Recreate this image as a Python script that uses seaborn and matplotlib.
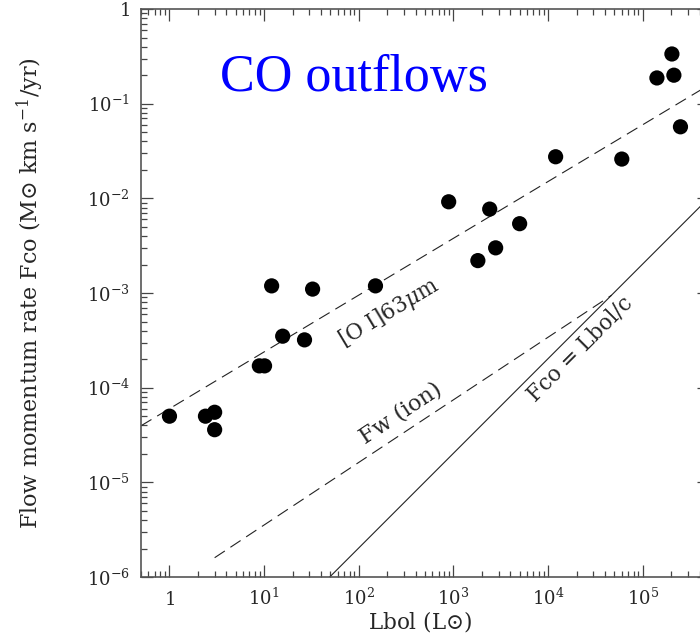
import numpy as np
import pandas as pd
import matplotlib
matplotlib.use("Agg")
import matplotlib.pyplot as plt
import seaborn as sns

# Outflow sources: bolometric luminosity (Lsun) and CO momentum rate (Msun km/s/yr)
lbol = [1, 2.4, 3.0, 3.0, 8.9, 10.1, 15.7, 26.7, 12, 32.5, 150, 890,
        2415, 1810, 2790, 5000, 12000, 60000, 1.41e5, 2.03e5, 2.13e5, 2.5e5]
fco = [5.0e-5, 5.0e-5, 5.5e-5, 3.6e-5, 1.7e-4, 1.7e-4, 3.5e-4, 3.2e-4,
       1.19e-3, 1.1e-3, 1.19e-3, 9.2e-3, 7.7e-3, 2.2e-3, 3.0e-3, 5.4e-3,
       2.75e-2, 2.6e-2, 0.187, 0.335, 0.20, 0.057]

# Reference relations
oi_norm, oi_slope = 6.0e-5, 0.6          # [O I] 63 um relation
oi_range = [0.5, 5e5]
fw_range = [3.0, 4.7e4]                  # ionised wind momentum rate
fw_flux = [1.6e-6, 9.5e-4]
lc_coef = 2.03e-8                        # Lsun / c in Msun km/s / yr
lc_range = [49.0, 5e5]

# Decade tick positions
x_decades = [1, 1e1, 1e2, 1e3, 1e4, 1e5]
y_decades = [1e-6, 1e-5, 1e-4, 1e-3, 1e-2, 1e-1, 1]

sns.set_style("ticks")
plt.rcParams["font.family"] = ["DejaVu Serif", "DejaVu Sans"]
plt.rcParams["mathtext.fontset"] = "dejavuserif"
plt.rcParams["axes.formatter.min_exponent"] = 1

fig = plt.figure(figsize=(7.0, 6.35), dpi=100)
ax = fig.add_axes([0.2014, 0.0913, 0.8114, 0.8945])
ax.set_xscale("log")
ax.set_yscale("log")

pts = pd.DataFrame({"Lbol": lbol, "Fco": fco})
sns.scatterplot(data=pts, x="Lbol", y="Fco", ax=ax, s=120, color="black",
                edgecolor="none", zorder=5)

oi = pd.DataFrame({"L": oi_range, "F": [oi_norm * v ** oi_slope for v in oi_range]})
fw = pd.DataFrame({"L": fw_range, "F": fw_flux})
lc = pd.DataFrame({"L": lc_range, "F": [lc_coef * v for v in lc_range]})
dash = (0, (11, 6))
sns.lineplot(data=oi, x="L", y="F", ax=ax, color="#222222", lw=0.8,
             linestyle=dash, sort=False, estimator=None)
sns.lineplot(data=fw, x="L", y="F", ax=ax, color="#222222", lw=0.8,
             linestyle=dash, sort=False, estimator=None)
sns.lineplot(data=lc, x="L", y="F", ax=ax, color="#222222", lw=0.8,
             sort=False, estimator=None)

ax.set_xlim(0.5, 5e5)
ax.set_ylim(1e-6, 1)
ax.set_xticks(x_decades)
ax.set_yticks(y_decades)

fw_slope = np.log10(fw_flux[1] / fw_flux[0]) / np.log10(fw_range[1] / fw_range[0])
ax.text(206, 6.2e-4, r"[O I]63$\mu$m", fontsize=15.5, ha="center", va="center",
        rotation=np.degrees(np.arctan(oi_slope)), rotation_mode="anchor")
ax.text(277, 5.4e-5, "Fw (ion)", fontsize=16, ha="center", va="center",
        rotation=np.degrees(np.arctan(fw_slope)), rotation_mode="anchor")
ax.text(2.2e4, 2.57e-4, "Fco = Lbol/c", fontsize=15.5, ha="center", va="center",
        rotation=45, rotation_mode="anchor")

ax.text(0.139, 0.855, "CO outflows", transform=ax.transAxes, color="#0000ff",
        fontsize=37.5, family="Liberation Serif", ha="left", va="baseline")

ax.set_xlabel(r"Lbol (L$\odot$)", fontsize=15.5)
ax.set_ylabel(r"Flow momentum rate Fco (M$\odot$ km s$^{-1}$/yr)", fontsize=16)
ax.xaxis.set_label_coords(0.491, -0.078)
ax.yaxis.set_label_coords(-0.195, 0.5)
ax.xaxis.label.set_va("center")
ax.yaxis.label.set_va("center")

for side in ax.spines.values():
    side.set_color("#555555")
    side.set_linewidth(1.2)
ax.tick_params(which="both", direction="in", top=True, right=True,
               color="#444444", width=0.9, labelsize=13)
ax.tick_params(which="major", length=8.5)
ax.tick_params(which="minor", length=4.5)
ax.tick_params(axis="x", which="major", pad=20)
ax.tick_params(axis="y", which="major", pad=8)
for lab in ax.get_xticklabels():
    lab.set_va("baseline")

fig.savefig("out.png", dpi=100)
